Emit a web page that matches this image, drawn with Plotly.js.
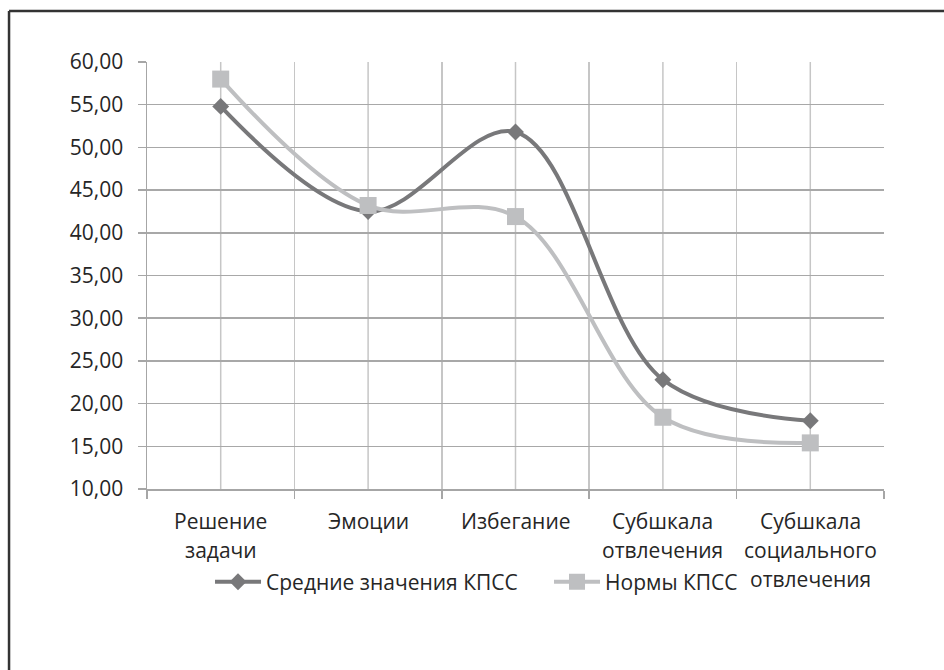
<!DOCTYPE html>
<html>
<head>
<meta charset="utf-8">
<script src="https://cdn.plot.ly/plotly-3.0.1.min.js"></script>
<style>
html,body{margin:0;padding:0;background:#fff;}
#chart{width:944px;height:670px;}
</style>
</head>
<body>
<div id="chart"></div>
<script>
// ---- data ----
const categoryLines = [
  ['Решение', 'задачи'],
  ['Эмоции'],
  ['Избегание'],
  ['Субшкала', 'отвлечения'],
  ['Субшкала', 'социального', 'отвлечения']
];
const categories = categoryLines.map(l => l.join(' '));
const meanName = 'Средние значения КПСС';
const meanValues = [54.8, 42.5, 51.8, 22.8, 18.0];
const normName = 'Нормы КПСС';
const normValues = [58.0, 43.2, 41.9, 18.4, 15.4];
const yTicks = [10, 15, 20, 25, 30, 35, 40, 45, 50, 55, 60];

// ---- styles ----
const FONT = 'Open Sans, sans-serif';
const FS = 21;
const TXT = '#262626';
const darkC = '#78787a';
const lightC = '#bebfc1';
const vGrid = '#c6c6c6';
const hGrid = '#a8a8a8';

const traces = [
  {
    x: categories, y: meanValues, name: meanName, type: 'scatter', mode: 'lines+markers',
    line: {color: darkC, width: 4, shape: 'spline', smoothing: 1},
    marker: {symbol: 'diamond', size: 13, color: darkC}
  },
  {
    x: categories, y: normValues, name: normName, type: 'scatter', mode: 'lines+markers',
    line: {color: lightC, width: 4, shape: 'spline', smoothing: 1},
    marker: {symbol: 'square', size: 17, color: lightC}
  }
];

const annotations = [];
categoryLines.forEach((lines, i) => {
  lines.forEach((t, k) => {
    annotations.push({
      x: i, xref: 'x', y: 0, yref: 'paper',
      text: t, showarrow: false, xanchor: 'center', yanchor: 'middle',
      yshift: -32 - 29 * k,
      font: {family: FONT, size: FS, color: TXT}
    });
  });
});

// vertical gridlines through category centres
const shapes = categories.map((c, i) => ({
  type: 'line', xref: 'x', yref: 'paper', x0: i, x1: i, y0: 0, y1: 1,
  layer: 'below', line: {color: vGrid, width: 1.5}
}));
// outer frame (top and left edges visible)
shapes.push(
  {type: 'line', xref: 'paper', yref: 'paper', x0: -0.1872, x1: 1.3, y0: 1.1194, y1: 1.1194,
   line: {color: '#333', width: 2.5}},
  {type: 'line', xref: 'paper', yref: 'paper', x0: -0.1872, x1: -0.1872, y0: 1.1194, y1: -0.6,
   line: {color: '#333', width: 2.5}}
);

const layout = {
  width: 944, height: 670,
  margin: {l: 147, r: 60, t: 62, b: 181},
  paper_bgcolor: '#fff', plot_bgcolor: '#fff',
  separators: ', ',
  showlegend: true,
  font: {family: FONT, size: FS, color: TXT},
  xaxis: {
    type: 'category', categoryorder: 'array', categoryarray: categories,
    range: [-0.5, 4.5], tickson: 'boundaries',
    showgrid: true, gridcolor: vGrid, gridwidth: 1.5,
    showline: true, linecolor: '#a6a6a6', linewidth: 1.5,
    ticks: 'outside', ticklen: 8, tickcolor: '#a6a6a6', tickwidth: 1.5,
    showticklabels: false, zeroline: false, fixedrange: true
  },
  yaxis: {
    range: [10, 60], tickvals: yTicks, tickformat: '.2f',
    showgrid: true, gridcolor: hGrid, gridwidth: 1.5,
    showline: true, linecolor: '#a6a6a6', linewidth: 1.5,
    ticks: 'outside', ticklen: 8, tickcolor: '#a6a6a6', tickwidth: 1.5,
    ticklabelstandoff: 10,
    tickfont: {family: FONT, size: FS, color: TXT},
    zeroline: false, fixedrange: true
  },
  legend: {
    orientation: 'h', x: 0.0855, xanchor: 'left', y: -0.218, yanchor: 'middle',
    font: {family: FONT, size: FS, color: TXT},
    itemwidth: 46, entrywidth: 278, entrywidthmode: 'pixels',
    bgcolor: 'rgba(0,0,0,0)', traceorder: 'normal'
  },
  annotations: annotations,
  shapes: shapes
};

Plotly.newPlot('chart', traces, layout, {displayModeBar: false, staticPlot: true});
</script>
</body>
</html>
